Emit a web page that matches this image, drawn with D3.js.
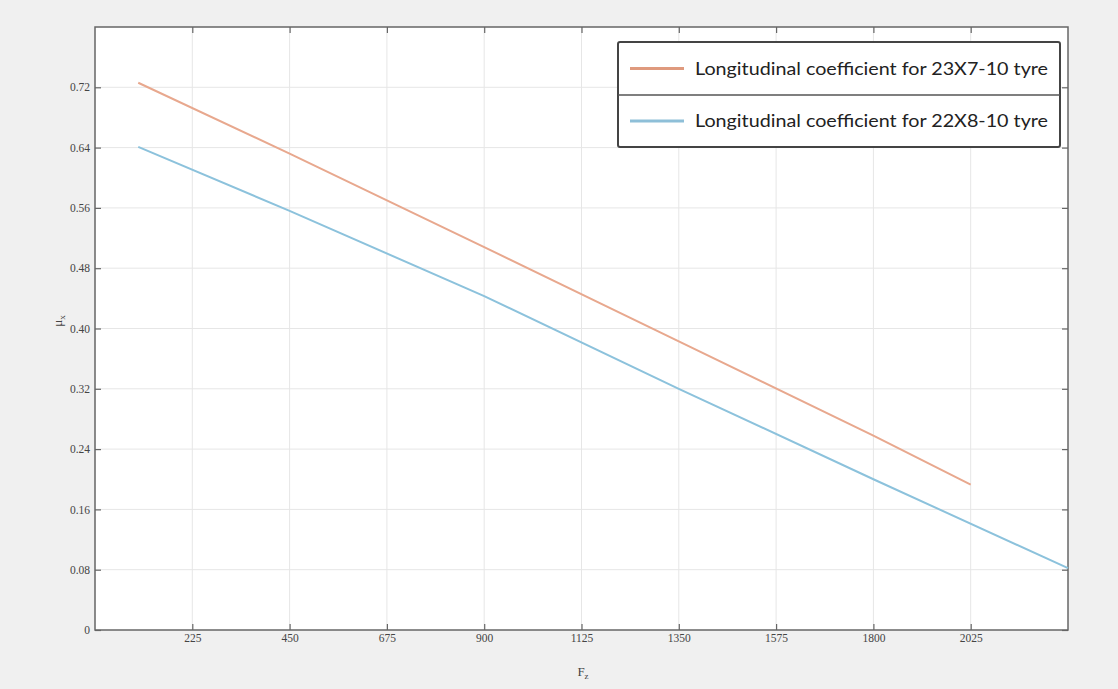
<!DOCTYPE html>
<html><head><meta charset="utf-8">
<script src="https://cdn.jsdelivr.net/npm/d3@7"></script>
<style>html,body{margin:0;padding:0;background:#f0f0f0;}svg{display:block;}</style>
</head><body>
<svg id="chart" width="1118" height="689"></svg>
<script>
const xTicks = [225, 450, 675, 900, 1125, 1350, 1575, 1800, 2025];
const yTicks = [0, 0.08, 0.16, 0.24, 0.32, 0.40, 0.48, 0.56, 0.64, 0.72];
const seriesNames = ["Longitudinal coefficient for 23X7-10 tyre", "Longitudinal coefficient for 22X8-10 tyre"];
const fzA = [100, 450, 900, 1350, 1800, 2025];
const muA = [0.726, 0.632, 0.508, 0.383, 0.258, 0.193];
const fzB = [100, 450, 900, 1350, 1800, 2250];
const muB = [0.641, 0.556, 0.443, 0.320, 0.200, 0.082];
const colors = ["#e8a88e", "#8cc2dc"];
const legendColors = ["#df9a7e", "#8ebfd8"];

const svg = d3.select("#chart");
const L = 95, R = 1068, T = 27, B = 630;
const x = d3.scaleLinear().domain([0, 2250]).range([L, R]);
const y = d3.scaleLinear().domain([0, 0.8]).range([B, T]);

svg.append("rect").attr("x", 0).attr("y", 0).attr("width", 1118).attr("height", 689).attr("fill", "#f0f0f0");
svg.append("rect").attr("x", L).attr("y", T).attr("width", R - L).attr("height", B - T).attr("fill", "#fff");

// grid
svg.append("g").selectAll("line").data(xTicks).join("line")
  .attr("x1", d => x(d)).attr("x2", d => x(d)).attr("y1", T).attr("y2", B)
  .attr("stroke", "#e6e6e6").attr("stroke-width", 1);
svg.append("g").selectAll("line").data(yTicks.filter(d => d > 0)).join("line")
  .attr("y1", d => y(d)).attr("y2", d => y(d)).attr("x1", L).attr("x2", R)
  .attr("stroke", "#e6e6e6").attr("stroke-width", 1);

const fmtY = d => d === 0 ? "0" : d.toFixed(2);
const axStyle = g => {
  g.select(".domain").remove();
  g.selectAll(".tick line").attr("stroke", "#666").attr("stroke-width", 1.2);
  g.selectAll(".tick text").attr("fill", "#444").attr("font-family", "Liberation Serif, serif").attr("font-size", 11.5);
};
svg.append("g").attr("transform", `translate(0,${B})`)
  .call(d3.axisBottom(x).tickValues(xTicks).tickSize(-6).tickPadding(4).tickFormat(d3.format("d"))).call(axStyle);
svg.append("g").attr("transform", `translate(0,${T})`)
  .call(d3.axisTop(x).tickValues(xTicks).tickSize(-6).tickFormat("")).call(axStyle);
svg.append("g").attr("transform", `translate(${L},0)`)
  .call(d3.axisLeft(y).tickValues(yTicks).tickSize(-6).tickPadding(5).tickFormat(fmtY)).call(axStyle);
svg.append("g").attr("transform", `translate(${R},0)`)
  .call(d3.axisRight(y).tickValues(yTicks).tickSize(-6).tickFormat("")).call(axStyle);

// box
svg.append("rect").attr("x", L).attr("y", T).attr("width", R - L).attr("height", B - T)
  .attr("fill", "none").attr("stroke", "#666").attr("stroke-width", 1.5);

// lines
const line = d3.line().x(d => x(d[0])).y(d => y(d[1]));
const series = [d3.zip(fzA, muA), d3.zip(fzB, muB)];
series.forEach((s, i) => {
  svg.append("path").datum(s).attr("d", line).attr("fill", "none")
    .attr("stroke", colors[i]).attr("stroke-width", 2);
});

// axis labels
svg.append("text").attr("x", 583).attr("y", 676).attr("text-anchor", "middle")
  .attr("font-family", "Liberation Serif, serif").attr("font-size", 13).attr("fill", "#444")
  .html('F<tspan font-size="9" dy="3">z</tspan>');
svg.append("text").attr("transform", `translate(62,${y(0.41)}) rotate(-90)`).attr("text-anchor", "middle")
  .attr("font-family", "Liberation Serif, serif").attr("font-size", 13).attr("fill", "#444")
  .html('μ<tspan font-size="9" dy="3">x</tspan>');

// legend
const lg = svg.append("g");
const lx0 = 618, lx1 = 1060, ly0 = 42, lyMid = 95, ly1 = 147;
lg.append("rect").attr("x", lx0).attr("y", ly0).attr("width", lx1 - lx0).attr("height", ly1 - ly0)
  .attr("rx", 2).attr("fill", "#fff").attr("stroke", "#444").attr("stroke-width", 2);
lg.append("line").attr("x1", lx0).attr("x2", lx1).attr("y1", lyMid).attr("y2", lyMid)
  .attr("stroke", "#555").attr("stroke-width", 1.5);
const rowsY = [(ly0 + lyMid) / 2, (lyMid + ly1) / 2];
seriesNames.forEach((nm, i) => {
  const cy = rowsY[i];
  lg.append("line").attr("x1", 630).attr("x2", 684).attr("y1", cy).attr("y2", cy)
    .attr("stroke", legendColors[i]).attr("stroke-width", 3);
  lg.append("text").attr("x", 695).attr("y", cy + 6).text(nm)
    .attr("textLength", 353).attr("lengthAdjust", "spacingAndGlyphs")
    .attr("font-family", "Lato, sans-serif").attr("font-size", 18).attr("fill", "#222");
});
</script>
</body></html>
